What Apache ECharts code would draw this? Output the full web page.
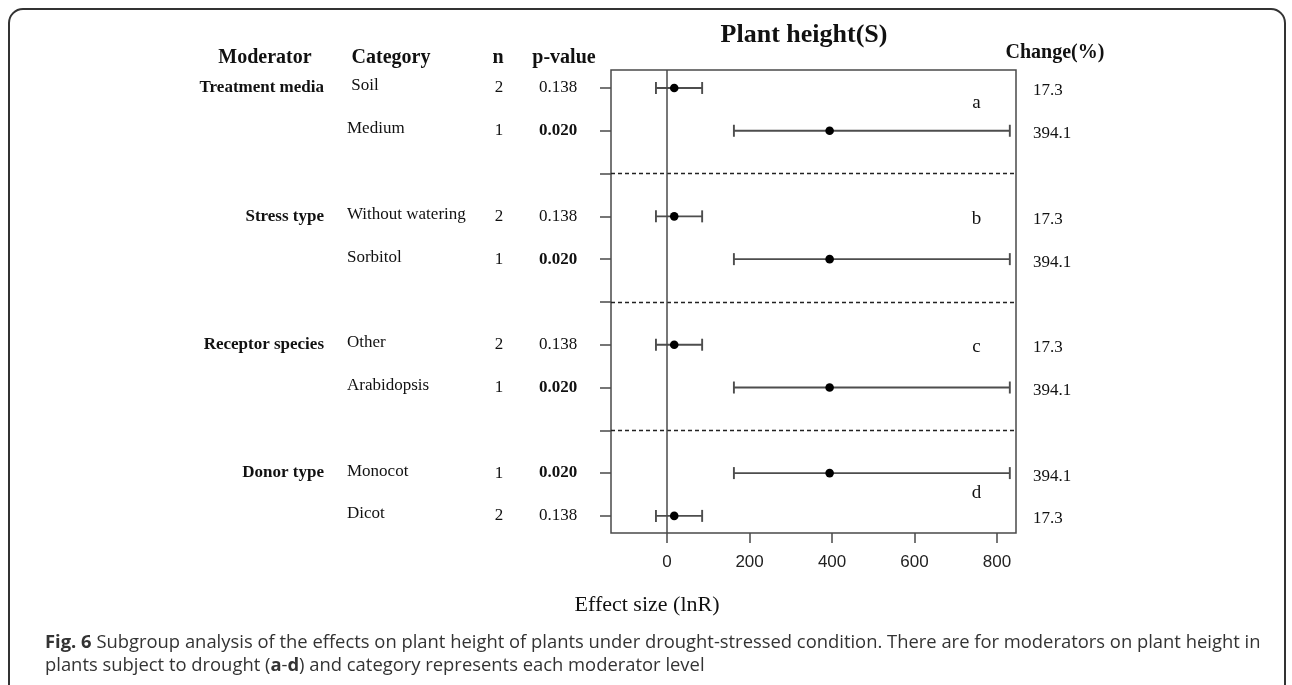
<!DOCTYPE html>
<html>
<head>
<meta charset="utf-8">
<script src="https://cdn.jsdelivr.net/npm/echarts@6/dist/echarts.min.js"></script>
<style>
html,body{margin:0;padding:0;background:#fff;}
#chart{width:1292px;height:685px;}
</style>
</head>
<body>
<div id="chart"></div>
<script>
// ---- data ----
var rowIndex    = [0, 1, 3, 4, 6, 7, 9, 10];
var moderators  = ['Treatment media', '', 'Stress type', '', 'Receptor species', '', 'Donor type', ''];
var categories  = [' Soil', 'Medium', 'Without watering', 'Sorbitol', 'Other', 'Arabidopsis', 'Monocot', 'Dicot'];
var nValues     = [2, 1, 2, 1, 2, 1, 1, 2];
var pValues     = ['0.138', '0.020', '0.138', '0.020', '0.138', '0.020', '0.020', '0.138'];
var changePct   = [17.3, 394.1, 17.3, 394.1, 17.3, 394.1, 394.1, 17.3];
var lowerCI     = [-27, 162, -27, 162, -27, 162, 162, -27];
var upperCI     = [85, 831, 85, 831, 85, 831, 831, 85];
var separatorRows = [2, 5, 8];
var rowTicks    = [0, 1, 2, 3, 4, 5, 6, 7, 8, 9, 10];
var xTicks      = [0, 200, 400, 600, 800];
var panelLetters = ['a', 'b', 'c', 'd'];
var letterRows   = [0.35, 3.07, 6.05, 9.47];
var letterX      = 750;

var SERIF = '"Liberation Serif", "Times New Roman", serif';
var SANS = '"Liberation Sans", Arial, sans-serif';
var CAP = '"Open Sans", sans-serif';

var barData = rowIndex.map(function (r, i) { return [lowerCI[i], upperCI[i], changePct[i], r]; });
var textData = rowIndex.map(function (r, i) { return [0, r, i]; });
var letterData = panelLetters.map(function (l, i) { return [letterX, letterRows[i], i]; });

var chart = echarts.init(document.getElementById('chart'), null, {renderer: 'canvas'});

chart.setOption({
  animation: false,
  backgroundColor: '#fff',
  grid: {left: 611, top: 70, width: 405, height: 463, show: true, borderColor: '#4a4a4a', borderWidth: 1.5, backgroundColor: 'transparent'},
  xAxis: {
    type: 'value', min: -136, max: 846, position: 'bottom',
    axisLine: {show: false, onZero: false},
    splitLine: {show: false},
    axisTick: {show: true, length: 10, customValues: xTicks, lineStyle: {color: '#4a4a4a', width: 1.5}},
    axisLabel: {customValues: xTicks, margin: 21, fontFamily: SANS, fontSize: 17, color: '#222'}
  },
  yAxis: {
    type: 'value', min: -0.42, max: 10.4, inverse: true, position: 'left',
    axisLine: {show: false, onZero: false},
    splitLine: {show: false},
    axisTick: {show: true, length: 11, customValues: rowTicks, lineStyle: {color: '#4a4a4a', width: 1.5}},
    axisLabel: {show: false}
  },
  series: [
    {
      type: 'custom',
      name: 'effects',
      data: barData,
      encode: {x: [0, 1, 2], y: 3},
      renderItem: function (params, api) {
        var lo = api.coord([api.value(0), api.value(3)]);
        var hi = api.coord([api.value(1), api.value(3)]);
        var mid = api.coord([api.value(2), api.value(3)]);
        var cap = 6;
        var ls = {stroke: '#4d4d4d', lineWidth: 1.9};
        return {
          type: 'group',
          children: [
            {type: 'line', shape: {x1: lo[0], y1: lo[1], x2: hi[0], y2: hi[1]}, style: ls},
            {type: 'line', shape: {x1: lo[0], y1: lo[1] - cap, x2: lo[0], y2: lo[1] + cap}, style: ls},
            {type: 'line', shape: {x1: hi[0], y1: hi[1] - cap, x2: hi[0], y2: hi[1] + cap}, style: ls},
            {type: 'circle', shape: {cx: mid[0], cy: mid[1], r: 4.3}, style: {fill: '#000'}}
          ]
        };
      },
      markLine: {
        silent: true,
        symbol: 'none',
        label: {show: false},
        data: separatorRows.map(function (v) {
          return {yAxis: v, lineStyle: {type: [4, 3], color: '#222', width: 1.3}};
        }).concat([{xAxis: 0, lineStyle: {type: 'solid', color: '#4a4a4a', width: 1.5}}])
      },
      z: 3
    },
    {
      type: 'custom',
      name: 'table',
      data: textData,
      encode: {x: 0, y: 1},
      renderItem: function (params, api) {
        var i = api.value(2);
        var y = api.coord([0, api.value(1)])[1];
        var bold = parseFloat(pValues[i]) < 0.05;
        var kids = [];
        if (moderators[i]) {
          kids.push({type: 'text', style: {text: moderators[i], x: 324, y: y, textAlign: 'right', textVerticalAlign: 'middle', fontFamily: SERIF, fontSize: 17, fontWeight: 'bold', fill: '#111'}});
        }
        kids.push({type: 'text', style: {text: categories[i], x: 347, y: y - 2, textAlign: 'left', textVerticalAlign: 'middle', fontFamily: SERIF, fontSize: 17, fill: '#111'}});
        kids.push({type: 'text', style: {text: String(nValues[i]), x: 499, y: y, textAlign: 'center', textVerticalAlign: 'middle', fontFamily: SERIF, fontSize: 17, fill: '#111'}});
        kids.push({type: 'text', style: {text: pValues[i], x: 558, y: y, textAlign: 'center', textVerticalAlign: 'middle', fontFamily: SERIF, fontSize: 17, fontWeight: bold ? 'bold' : 'normal', fill: '#111'}});
        kids.push({type: 'text', style: {text: String(changePct[i]), x: 1033, y: y + 3, textAlign: 'left', textVerticalAlign: 'middle', fontFamily: SERIF, fontSize: 17, fill: '#111'}});
        return {type: 'group', children: kids};
      },
      z: 4
    },
    {
      type: 'custom',
      name: 'letters',
      data: letterData,
      encode: {x: 0, y: 1},
      renderItem: function (params, api) {
        var p = api.coord([api.value(0), api.value(1)]);
        return {type: 'text', style: {text: panelLetters[api.value(2)], x: p[0], y: p[1], textAlign: 'center', textVerticalAlign: 'middle', fontFamily: SERIF, fontSize: 19, fill: '#111'}};
      },
      z: 4
    }
  ],
  graphic: [
    {type: 'rect', shape: {x: 9, y: 9, width: 1276, height: 720, r: [14, 14, 0, 0]}, style: {fill: 'none', stroke: '#333', lineWidth: 2}, z: 0},
    {type: 'text', style: {text: 'Plant height(S)', x: 804, y: 35, textAlign: 'center', textVerticalAlign: 'middle', fontFamily: SERIF, fontSize: 26, fontWeight: 'bold', fill: '#111'}},
    {type: 'text', style: {text: 'Moderator', x: 265, y: 58, textAlign: 'center', textVerticalAlign: 'middle', fontFamily: SERIF, fontSize: 20, fontWeight: 'bold', fill: '#111'}},
    {type: 'text', style: {text: 'Category', x: 391, y: 58, textAlign: 'center', textVerticalAlign: 'middle', fontFamily: SERIF, fontSize: 20, fontWeight: 'bold', fill: '#111'}},
    {type: 'text', style: {text: 'n', x: 498, y: 58, textAlign: 'center', textVerticalAlign: 'middle', fontFamily: SERIF, fontSize: 20, fontWeight: 'bold', fill: '#111'}},
    {type: 'text', style: {text: 'p-value', x: 564, y: 58, textAlign: 'center', textVerticalAlign: 'middle', fontFamily: SERIF, fontSize: 20, fontWeight: 'bold', fill: '#111'}},
    {type: 'text', style: {text: 'Change(%)', x: 1055, y: 53, textAlign: 'center', textVerticalAlign: 'middle', fontFamily: SERIF, fontSize: 20, fontWeight: 'bold', fill: '#111'}},
    {type: 'text', style: {text: 'Effect size (lnR)', x: 647, y: 605, textAlign: 'center', textVerticalAlign: 'middle', fontFamily: SERIF, fontSize: 22, fill: '#111'}},
    {type: 'text', style: {
      text: '{b|Fig. 6} Subgroup analysis of the effects on plant height of plants under drought-stressed condition. There are for moderators on plant height in',
      x: 45, y: 643, textAlign: 'left', textVerticalAlign: 'middle', fontFamily: CAP, fontSize: 18.4, fill: '#333',
      rich: {b: {fontWeight: 'bold', fontFamily: CAP, fontSize: 18.4, fill: '#333'}}
    }},
    {type: 'text', style: {
      text: 'plants subject to drought ({b|a}-{b|d}) and category represents each moderator level',
      x: 45, y: 666, textAlign: 'left', textVerticalAlign: 'middle', fontFamily: CAP, fontSize: 18.4, fill: '#333',
      rich: {b: {fontWeight: 'bold', fontFamily: CAP, fontSize: 18.4, fill: '#333'}}
    }}
  ]
});
</script>
</body>
</html>
